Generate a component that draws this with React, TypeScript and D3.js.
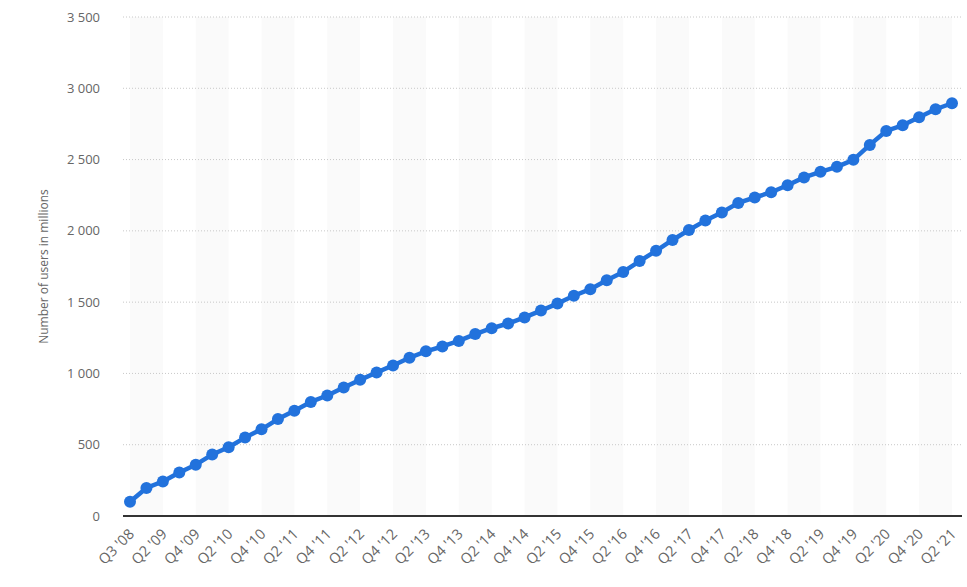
import React from "react";
import * as d3 from "d3";

const categories: string[] = [
  "Q3 '08", "Q1 '09", "Q2 '09", "Q3 '09", "Q4 '09",
  "Q1 '10", "Q2 '10", "Q3 '10", "Q4 '10",
  "Q1 '11", "Q2 '11", "Q3 '11", "Q4 '11",
  "Q1 '12", "Q2 '12", "Q3 '12", "Q4 '12",
  "Q1 '13", "Q2 '13", "Q3 '13", "Q4 '13",
  "Q1 '14", "Q2 '14", "Q3 '14", "Q4 '14",
  "Q1 '15", "Q2 '15", "Q3 '15", "Q4 '15",
  "Q1 '16", "Q2 '16", "Q3 '16", "Q4 '16",
  "Q1 '17", "Q2 '17", "Q3 '17", "Q4 '17",
  "Q1 '18", "Q2 '18", "Q3 '18", "Q4 '18",
  "Q1 '19", "Q2 '19", "Q3 '19", "Q4 '19",
  "Q1 '20", "Q2 '20", "Q3 '20", "Q4 '20",
  "Q1 '21", "Q2 '21",
];

const users: number[] = [
  100, 197, 242, 305, 360,
  431, 482, 550, 608,
  680, 739, 800, 845,
  901, 955, 1007, 1056,
  1110, 1155, 1189, 1228,
  1276, 1317, 1350, 1393,
  1441, 1490, 1545, 1591,
  1654, 1712, 1788, 1860,
  1936, 2006, 2072, 2129,
  2196, 2234, 2271, 2320,
  2375, 2414, 2449, 2498,
  2603, 2701, 2740, 2797,
  2853, 2895,
];

const yTicks: number[] = [0, 500, 1000, 1500, 2000, 2500, 3000, 3500];
const yTitle = "Number of users in millions";

const W = 967;
const H = 587;
const plotLeft = 123;
const plotRight = 962;
const plotTop = 17;
const plotBottom = 516;
const FONT = "'Open Sans', 'Noto Sans', sans-serif";
const BLUE = "#2272dc";

function fmt(v: number): string {
  return d3.format(",")(v).replace(/,/g, " ");
}

export default function App() {
  const n = categories.length;
  const x = d3.scaleLinear().domain([0, n - 1]).range([130, 952]);
  const y = d3.scaleLinear().domain([0, 3500]).range([plotBottom, plotTop]);

  const line = d3
    .line<number>()
    .x((_, i) => x(i))
    .y((d) => y(d));

  const bandStarts = d3.range(0, n - 1, 4);
  const labelIdx = d3.range(0, n, 2);

  return (
    <svg
      width={W}
      height={H}
      style={{ position: "absolute", left: 0, top: 0, background: "#fff" }}
      fontFamily={FONT}
    >
      {bandStarts.map((s) => (
        <rect
          key={"b" + s}
          x={x(s)}
          y={plotTop}
          width={x(Math.min(s + 2, n - 1)) - x(s)}
          height={plotBottom - plotTop}
          fill="#fafafa"
        />
      ))}
      {yTicks.map((t) =>
        t === 0 ? null : (
          <line
            key={"g" + t}
            x1={plotLeft}
            x2={plotRight}
            y1={y(t)}
            y2={y(t)}
            stroke="#c8c8c8"
            strokeWidth={1}
            strokeDasharray="1,2"
          />
        )
      )}
      <line
        x1={plotLeft}
        x2={plotRight}
        y1={plotBottom}
        y2={plotBottom}
        stroke="#333"
        strokeWidth={2}
      />
      {yTicks.map((t) => (
        <text
          key={"yl" + t}
          x={100}
          y={y(t)}
          dy="0.35em"
          textAnchor="end"
          fontSize={13}
          fill="#666"
        >
          {fmt(t)}
        </text>
      ))}
      <text
        transform={`translate(48,${(plotTop + plotBottom) / 2}) rotate(-90)`}
        textAnchor="middle"
        fontSize={12}
        fill="#666"
      >
        {yTitle}
      </text>
      {labelIdx.map((i) => (
        <text
          key={"xl" + i}
          transform={`translate(${x(i) + 5},${plotBottom + 19}) rotate(-45)`}
          textAnchor="end"
          fontSize={14.5}
          fill="#666"
        >
          {categories[i]}
        </text>
      ))}
      <path
        d={line(users) || ""}
        fill="none"
        stroke={BLUE}
        strokeWidth={4.5}
        strokeLinejoin="round"
      />
      {users.map((v, i) => (
        <circle key={"c" + i} cx={x(i)} cy={y(v)} r={6} fill={BLUE} />
      ))}
    </svg>
  );
}
